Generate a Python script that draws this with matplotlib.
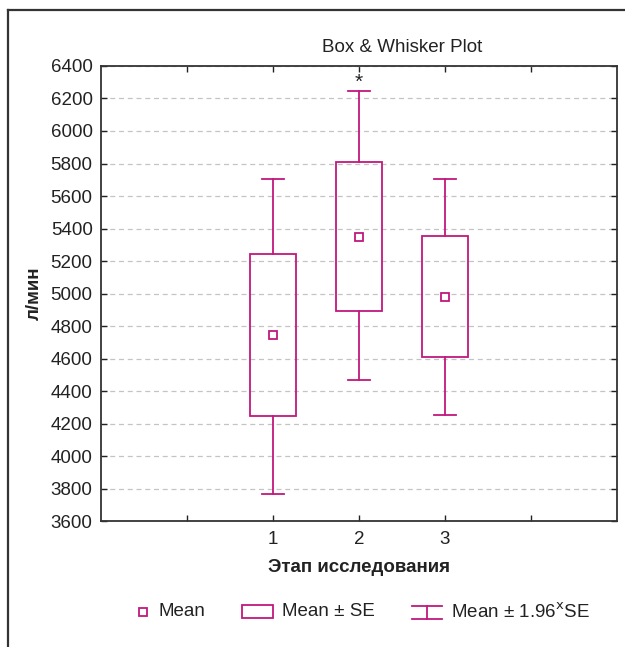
import matplotlib
matplotlib.use("Agg")
import matplotlib.pyplot as plt
from matplotlib.lines import Line2D
from matplotlib.patches import Rectangle

plt.rcParams["font.family"] = ["Liberation Sans", "DejaVu Sans"]

# data
stages = [1, 2, 3]
means = [4745, 5350, 4978]
se_low = [4245, 4890, 4607]
se_high = [5242, 5810, 5354]
ci_low = [3765, 4467, 4250]
ci_high = [5705, 6247, 5705]
star_stage = 2
star_value = 6300
yticks = list(range(3600, 6401, 200))

col = "#C2187E"
txt = "#222222"
fig = plt.figure(figsize=(6.25, 6.47), dpi=100)
ax = fig.add_axes([0.1616, 0.1947, 0.8256, 0.7033])

box_w = 0.53
cap_w = 0.25
for x, m, lo, hi, wlo, whi in zip(stages, means, se_low, se_high, ci_low, ci_high):
    ax.add_patch(Rectangle((x - box_w / 2, lo), box_w, hi - lo,
                           fill=False, edgecolor=col, lw=1.3, zorder=3))
    ax.plot([x, x], [hi, whi], color=col, lw=1.3, zorder=3)
    ax.plot([x, x], [wlo, lo], color=col, lw=1.3, zorder=3)
    ax.plot([x - cap_w / 2, x + cap_w / 2], [whi, whi], color=col, lw=1.3, zorder=3)
    ax.plot([x - cap_w / 2, x + cap_w / 2], [wlo, wlo], color=col, lw=1.3, zorder=3)
    ax.plot(x, m, marker="s", ms=5.5, mfc="white", mec=col, mew=1.3, zorder=4)

ax.text(star_stage, star_value, "*", ha="center", va="center", fontsize=15, color=txt)

ax.set_xlim(-1, 5)
ax.set_ylim(3600, 6400)
ax.set_xticks([0, 1, 2, 3, 4])
ax.set_xticklabels(["", "1", "2", "3", ""])
ax.set_yticks(yticks)
ax.tick_params(direction="in", length=4, width=1, labelsize=13.5, colors=txt,
               top=True, right=True, pad=6)
ax.tick_params(axis="x", pad=7)
ax.yaxis.grid(True, linestyle=(0, (4, 3)), color="#c4c4c4", lw=0.9)
ax.set_axisbelow(True)
for s in ax.spines.values():
    s.set_linewidth(1.3)
    s.set_color("#333333")

fig.text(402 / 625, 1 - 47 / 647, "Box & Whisker Plot", fontsize=13.5, color=txt,
         ha="center", va="center")
ax.set_xlabel("Этап исследования", fontsize=13.5, fontweight="bold", color=txt, labelpad=8)
ax.set_ylabel("л/мин", fontsize=13.5, fontweight="bold", color=txt, labelpad=6)

# outer frame (left and top)
fig.add_artist(Line2D([0.013, 0.013], [0, 0.985], color="#333333", lw=1.6))
fig.add_artist(Line2D([0.013, 1], [0.985, 0.985], color="#333333", lw=1.6))

# legend drawn by hand
ly = 1 - 612 / 647
fig.add_artist(Line2D([143 / 625], [ly], marker="s", ms=5.5, mfc="white", mec=col, mew=1.3))
fig.text(158 / 625, ly, "Mean", fontsize=13.5, va="center", color=txt)
fig.add_artist(Rectangle((242 / 625, ly - 6 / 647), 31 / 625, 13 / 647, fill=False,
                         edgecolor=col, lw=1.3, transform=fig.transFigure))
fig.text(282 / 625, ly, "Mean ± SE", fontsize=13.5, va="center", color=txt)
fig.add_artist(Line2D([412 / 625, 442 / 625], [ly + 6 / 647, ly + 6 / 647], color=col, lw=1.3))
fig.add_artist(Line2D([412 / 625, 442 / 625], [ly - 7 / 647, ly - 7 / 647], color=col, lw=1.3))
fig.add_artist(Line2D([427 / 625, 427 / 625], [ly - 7 / 647, ly + 6 / 647], color=col, lw=1.3))
fig.text(451 / 625, ly, "Mean ± 1.96$^{\\mathrm{x}}$SE", fontsize=13.5, va="center", color=txt)

fig.savefig("out.png", dpi=100)
